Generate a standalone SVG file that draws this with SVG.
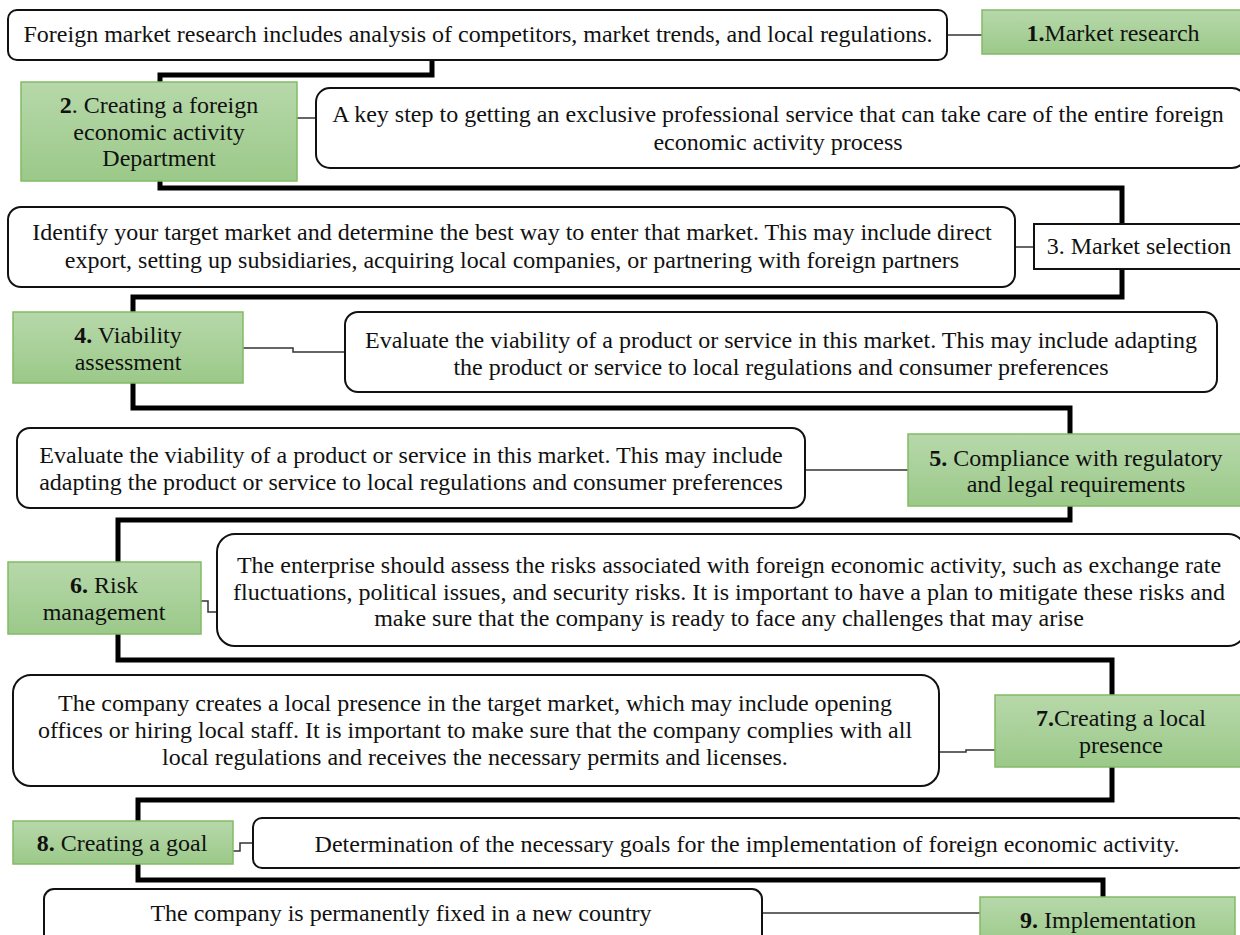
<svg xmlns="http://www.w3.org/2000/svg" width="1240" height="935" viewBox="0 0 1240 935">
<style>
text{font-family:"Liberation Serif","Times New Roman",serif;font-size:24px;fill:#111;text-anchor:middle}
.d{fill:#fff;stroke:#111;stroke-width:2}
.g{fill:url(#gr);stroke:#82bb66;stroke-width:1.5}
.w{fill:#fff;stroke:#111;stroke-width:2}
.thick{fill:none;stroke:#000;stroke-width:5;stroke-linejoin:miter}
.thin{fill:none;stroke:#333;stroke-width:1.5}
</style>
<defs>
<linearGradient id="gr" x1="0" y1="0" x2="0" y2="1">
<stop offset="0" stop-color="#b7d8aa"/>
<stop offset="1" stop-color="#9bc989"/>
</linearGradient>
</defs>
<rect width="1240" height="935" fill="#fff"/>
<g id="connectors">
<path class="thick" d="M432,60 V75 H160 V188 H1122 V297 H133 V408 H1070 V520 H118 V660 H1112 V800 H138 V880 H1103 V897"/>
<path class="thin" d="M947,35 H982"/>
<path class="thin" d="M297,118 H316"/>
<path class="thin" d="M1015,247 H1034"/>
<path class="thin" d="M243,348 H293 V352 H345"/>
<path class="thin" d="M805,470 H908"/>
<path class="thin" d="M201,601 H208 V612 H217"/>
<path class="thin" d="M939,752 H966 V750 H995"/>
<path class="thin" d="M233,851 H240 V843 H253"/>
<path class="thin" d="M762,913 H980"/>
</g>
<g id="desc1"><rect class="d" x="8" y="10" width="939" height="50" rx="9"/>
<text x="478" y="42">Foreign market research includes analysis of competitors, market trends, and local regulations.</text></g>
<g id="node1"><rect class="g" x="982" y="10" width="262" height="44"/>
<text x="1113" y="41"><tspan font-weight="bold">1.</tspan>Market research</text></g>
<g id="node2"><rect class="g" x="21" y="82" width="276" height="99"/>
<text x="159" y="113"><tspan font-weight="bold">2</tspan>. Creating a foreign</text>
<text x="159" y="140">economic activity</text>
<text x="159" y="166">Department</text></g>
<g id="desc2"><rect class="d" x="316" y="88" width="930" height="80" rx="14"/>
<text x="778" y="122">A key step to getting an exclusive professional service that can take care of the entire foreign</text>
<text x="778" y="150">economic activity process</text></g>
<g id="desc3"><rect class="d" x="8" y="207" width="1007" height="80" rx="13"/>
<text x="512" y="240">Identify your target market and determine the best way to enter that market. This may include direct</text>
<text x="512" y="268">export, setting up subsidiaries, acquiring local companies, or partnering with foreign partners</text></g>
<g id="node3"><rect class="w" x="1034" y="224" width="210" height="45"/>
<text x="1139" y="254">3. Market selection</text></g>
<g id="node4"><rect class="g" x="13" y="312" width="230" height="71"/>
<text x="128" y="343"><tspan font-weight="bold">4.</tspan> Viability</text>
<text x="128" y="370">assessment</text></g>
<g id="desc4"><rect class="d" x="345" y="312" width="872" height="80" rx="13"/>
<text x="781" y="348">Evaluate the viability of a product or service in this market. This may include adapting</text>
<text x="781" y="375">the product or service to local regulations and consumer preferences</text></g>
<g id="desc5"><rect class="d" x="17" y="428" width="788" height="80" rx="13"/>
<text x="411" y="463">Evaluate the viability of a product or service in this market. This may include</text>
<text x="411" y="490">adapting the product or service to local regulations and consumer preferences</text></g>
<g id="node5"><rect class="g" x="908" y="434" width="336" height="72"/>
<text x="1076" y="466"><tspan font-weight="bold">5.</tspan> Compliance with regulatory</text>
<text x="1076" y="492">and legal requirements</text></g>
<g id="node6"><rect class="g" x="8" y="562" width="193" height="72"/>
<text x="104" y="593"><tspan font-weight="bold">6.</tspan> Risk</text>
<text x="104" y="620">management</text></g>
<g id="desc6"><rect class="d" x="217" y="534" width="1029" height="112" rx="18"/>
<text x="729" y="573">The enterprise should assess the risks associated with foreign economic activity, such as exchange rate</text>
<text x="729" y="600">fluctuations, political issues, and security risks. It is important to have a plan to mitigate these risks and</text>
<text x="729" y="626">make sure that the company is ready to face any challenges that may arise</text></g>
<g id="desc7"><rect class="d" x="13" y="675" width="926" height="111" rx="18"/>
<text x="475" y="711">The company creates a local presence in the target market, which may include opening</text>
<text x="475" y="738">offices or hiring local staff. It is important to make sure that the company complies with all</text>
<text x="475" y="765">local regulations and receives the necessary permits and licenses.</text></g>
<g id="node7"><rect class="g" x="995" y="695" width="249" height="72"/>
<text x="1121" y="726"><tspan font-weight="bold">7.</tspan>Creating a local</text>
<text x="1121" y="753">presence</text></g>
<g id="node8"><rect class="g" x="13" y="821" width="220" height="43"/>
<text x="122" y="851"><tspan font-weight="bold">8.</tspan> Creating a goal</text></g>
<g id="desc8"><rect class="d" x="253" y="818" width="993" height="50" rx="9"/>
<text x="747" y="852">Determination of the necessary goals for the implementation of foreign economic activity.</text></g>
<g id="desc9"><rect class="d" x="44" y="889" width="718" height="60" rx="10"/>
<text x="401" y="921">The company is permanently fixed in a new country</text></g>
<g id="node9"><rect class="g" x="980" y="897" width="255" height="50"/>
<text x="1108" y="928"><tspan font-weight="bold">9.</tspan> Implementation</text></g>
</svg>
